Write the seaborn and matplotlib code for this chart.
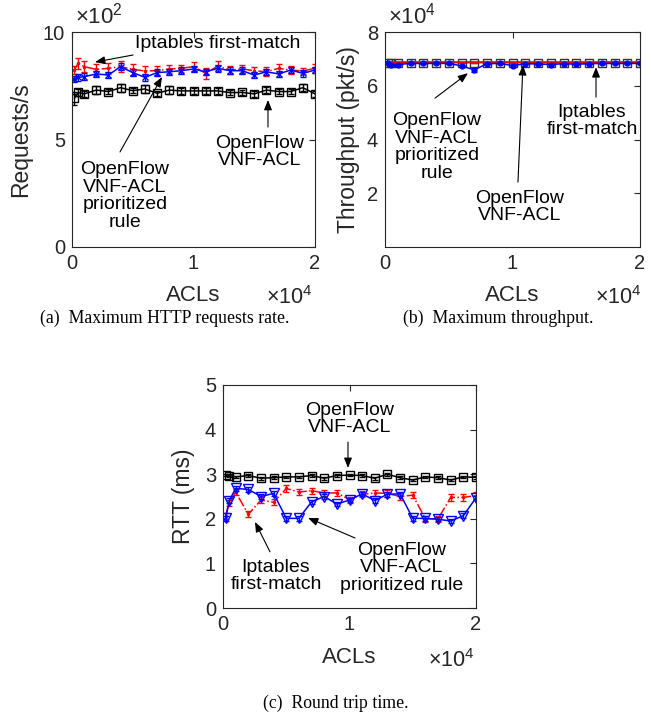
import numpy as np
import pandas as pd
import matplotlib
matplotlib.use('Agg')
import matplotlib.pyplot as plt
import seaborn as sns
from matplotlib.ticker import FuncFormatter

# number of ACL rules installed
acls = [200, 500, 1000, 2000, 3000, 4000, 5000, 6000, 7000, 8000, 9000,
        10000, 11000, 12000, 13000, 14000, 15000, 16000, 17000, 18000, 19000, 20000]

# (a) max HTTP requests rate (req/s)
req_ofacl = [692, 719, 712, 730, 723, 741, 727, 735, 715, 730, 726,
             726, 726, 726, 718, 719, 712, 730, 723, 723, 741, 712]
req_ofacl_err = [30, 15, 12, 18, 10, 18, 12, 18, 12, 18, 15,
                 15, 15, 15, 12, 12, 12, 15, 12, 12, 15, 12]
req_ipt = [823, 854, 839, 826, 831, 839, 826, 819, 820, 828, 831,
           839, 808, 842, 823, 828, 820, 815, 831, 823, 819, 831]
req_ipt_err = [20, 25, 25, 25, 25, 25, 25, 25, 20, 20, 15,
               20, 25, 25, 20, 20, 15, 20, 20, 20, 15, 20]
req_prio = [781, 789, 792, 805, 800, 839, 811, 789, 811, 815, 820,
            828, 815, 831, 820, 820, 800, 815, 805, 823, 808, 823]
req_prio_err = [15, 15, 15, 15, 15, 18, 15, 15, 15, 15, 15,
                15, 15, 15, 15, 15, 15, 15, 15, 15, 15, 15]

# (b) max throughput (pkt/s)
thr_ofacl = [68600, 68500, 68600, 68600, 68600, 68600, 68600, 68600, 68600, 68600, 68600,
             68600, 68600, 68600, 68600, 68600, 68500, 68600, 68600, 68600, 68600, 68600]
thr_ofacl_err = [300, 200, 200, 200, 200, 200, 200, 200, 200, 200, 200,
                 200, 200, 200, 200, 200, 200, 200, 200, 200, 200, 200]
thr_ipt = [68700, 68700, 68700, 68700, 68700, 68700, 68700, 68700, 68700, 68700, 68700,
           68700, 68700, 68700, 68700, 68700, 68700, 68700, 68700, 68700, 68700, 68700]
thr_ipt_err = [100, 100, 100, 100, 100, 100, 100, 100, 100, 100, 100,
               100, 100, 100, 100, 100, 100, 100, 100, 100, 100, 100]
thr_prio = [68300, 67600, 67900, 68300, 68300, 68300, 68300, 67400, 65900, 68200, 68300,
            67500, 68200, 68100, 67900, 68200, 68000, 68200, 68300, 68300, 68300, 68300]
thr_prio_err = [300, 400, 300, 200, 200, 200, 200, 500, 700, 200, 200,
                400, 200, 200, 300, 200, 200, 200, 200, 200, 200, 200]

# (c) round trip time (ms)
rtt_ofacl = [2.98, 2.97, 2.94, 2.97, 2.91, 2.92, 2.94, 2.94, 2.97, 2.91, 2.97,
             2.98, 2.97, 2.91, 3.00, 2.92, 2.87, 2.94, 2.92, 2.87, 2.94, 2.93]
rtt_ofacl_err = [0.03] * 22
rtt_ipt = [2.07, 2.35, 2.60, 2.10, 2.42, 2.37, 2.68, 2.60, 2.63, 2.58, 2.58,
           2.43, 2.55, 2.58, 2.57, 2.50, 2.53, 2.00, 2.00, 2.48, 2.48, 2.52]
rtt_ipt_err = [0.07] * 22
rtt_prio = [2.01, 2.41, 2.68, 2.66, 2.50, 2.57, 2.01, 2.01, 2.38, 2.50, 2.33,
            2.42, 2.56, 2.41, 2.55, 2.56, 2.01, 2.01, 1.99, 1.95, 2.07, 2.47]
rtt_prio_err = [0.05] * 22

sns.set_theme(style='white')
plt.rcParams['font.family'] = ['Liberation Sans', 'DejaVu Sans']
plt.rcParams['mathtext.fontset'] = 'custom'
plt.rcParams['mathtext.rm'] = 'Liberation Sans'
plt.rcParams['mathtext.it'] = 'Liberation Sans'

GRAY = '#262626'
RED = '#ff0000'
BLUE = '#0000ff'

fig = plt.figure(figsize=(6.54, 7.15), dpi=100)
W, H = 654, 715


def add_ax(l, t, r, b):
    return fig.add_axes([l / W, 1 - b / H, (r - l) / W, (b - t) / H])


ax_a = add_ax(72, 32, 315, 247)
ax_b = add_ax(385, 32, 640, 247)
ax_c = add_ax(223, 385, 476, 608)


def draw(ax, y, err, color, ls, marker, ms, mfc='none', cap=2):
    sns.lineplot(x=acls, y=y, ax=ax, color=color, linestyle=ls, linewidth=1.1,
                 marker=marker, markersize=ms, markerfacecolor=mfc,
                 markeredgecolor=color, markeredgewidth=1.0, errorbar=None)
    ax.errorbar(acls, y, yerr=err, fmt='none', ecolor=color, elinewidth=1.0,
                capsize=cap, capthick=1.0)


def style(ax, ylim, yticks, ylabel, ylab_x, xexp_x, yexp=None):
    ax.set_xlim(0, 20000)
    ax.set_xticks([0, 10000, 20000])
    ax.set_ylim(*ylim)
    ax.set_yticks(yticks)
    ax.xaxis.set_major_formatter(FuncFormatter(lambda v, p: f'{v / 1e4:g}'))
    if yexp:
        ax.yaxis.set_major_formatter(FuncFormatter(lambda v, p: f'{v / 10 ** yexp:g}'))
        ax.text(0.012, 1.015, r'$\times10^{%d}$' % yexp, transform=ax.transAxes,
                ha='left', va='bottom', fontsize=16, color=GRAY)
    ax.tick_params(direction='in', top=True, right=True, length=4, width=0.8,
                   labelsize=14.5, colors=GRAY, pad=5)
    for s in ax.spines.values():
        s.set_color(GRAY)
        s.set_linewidth(0.8)
    ax.set_xlabel('ACLs', fontsize=16, color=GRAY)
    ax.xaxis.set_label_coords(0.5, -0.175)
    ax.set_ylabel(ylabel, fontsize=16.5, color=GRAY)
    ax.yaxis.set_label_coords(ylab_x, 0.5)
    ax.text(xexp_x, -0.235, r'$\times10^{4}$', transform=ax.transAxes,
            ha='right', va='center', fontsize=15.5, color=GRAY)


def note(ax, txt, pos, start, end):
    ax.text(pos[0], pos[1], txt, ha='center', va='center', fontsize=14,
            color='black', linespacing=1.05)
    ax.annotate('', xy=end, xytext=start,
                arrowprops=dict(arrowstyle='-|>,head_length=0.5,head_width=0.2',
                                color='black', lw=0.8, mutation_scale=12,
                                shrinkA=0, shrinkB=0))


# (a)
draw(ax_a, req_ofacl, req_ofacl_err, 'black', '-', 's', 6)
draw(ax_a, req_ipt, req_ipt_err, RED, '-.', '.', 3, mfc=RED)
draw(ax_a, req_prio, req_prio_err, BLUE, '-', 'x', 4)
style(ax_a, (0, 1000), [0, 500, 1000], 'Requests/s', -0.165, 0.988, yexp=2)
note(ax_a, 'Iptables first-match', (12000, 947), (5020, 893), (1893, 860))
note(ax_a, 'OpenFlow\nVNF-ACL\nprioritized\nrule', (4362, 237), (3950, 442), (7407, 791))
note(ax_a, 'OpenFlow\nVNF-ACL', (15470, 442), (16130, 558), (16130, 684))

# (b)
draw(ax_b, thr_ofacl, thr_ofacl_err, '#333333', '-', 's', 6)
draw(ax_b, thr_ipt, thr_ipt_err, RED, '-', None, 3)
draw(ax_b, thr_prio, thr_prio_err, BLUE, '-', 'o', 3.5, mfc=BLUE)
style(ax_b, (0, 80000), [20000, 40000, 60000, 80000], 'Throughput (pkt/s)',
      -0.098, 1.008, yexp=4)
note(ax_b, 'OpenFlow\nVNF-ACL\nprioritized\nrule', (4078, 37175), (3922, 55390), (6510, 64684))
note(ax_b, 'OpenFlow\nVNF-ACL', (10590, 14870), (10430, 24164), (10820, 67658))
note(ax_b, 'Iptables\nfirst-match', (16235, 46840), (16550, 55760), (16550, 66900))

# (c)
draw(ax_c, rtt_ofacl, rtt_ofacl_err, 'black', '-', 's', 6)
draw(ax_c, rtt_ipt, rtt_ipt_err, RED, '-.', '.', 3, mfc=RED)
draw(ax_c, rtt_prio, rtt_prio_err, BLUE, '-', 'v', 7)
style(ax_c, (0, 5), [0, 1, 2, 3, 4, 5], 'RTT (ms)', -0.111, 0.996)
note(ax_c, 'OpenFlow\nVNF-ACL', (10040, 4.24), (9880, 3.72), (9880, 3.14))
note(ax_c, 'Iptables\nfirst-match', (4190, 0.72), (3715, 1.26), (2530, 1.93))
note(ax_c, 'OpenFlow\nVNF-ACL\nprioritized rule', (14150, 0.90), (10435, 1.57), (6720, 2.02))

cap_font = ['Liberation Serif', 'DejaVu Serif']
fig.text(165 / W, 1 - 318 / H, '(a)  Maximum HTTP requests rate.', ha='center', va='center',
         fontsize=12.8, family=cap_font, color='black')
fig.text(498 / W, 1 - 318 / H, '(b)  Maximum throughput.', ha='center', va='center',
         fontsize=12.8, family=cap_font, color='black')
fig.text(336 / W, 1 - 703 / H, '(c)  Round trip time.', ha='center', va='center',
         fontsize=12.8, family=cap_font, color='black')

fig.savefig('out.png', dpi=100, facecolor='white')
